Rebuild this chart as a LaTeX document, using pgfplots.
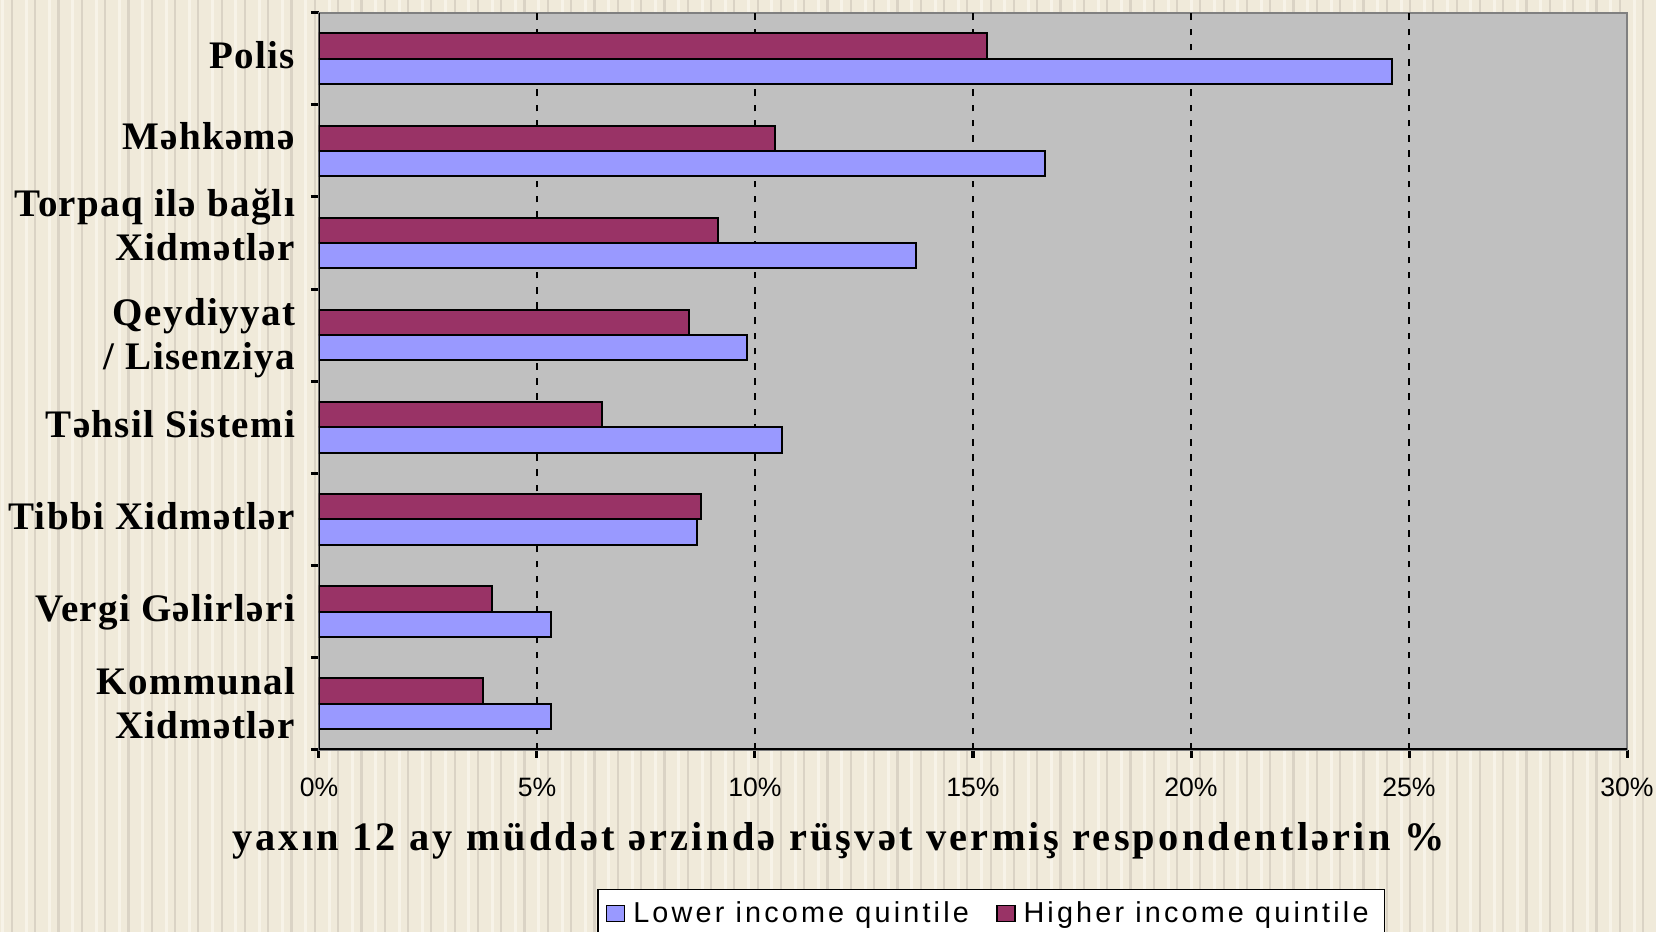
\documentclass[border=0pt]{standalone}
\usepackage{pgfplots}
\pgfplotsset{compat=1.18}
\usepackage{fontspec}
\usetikzlibrary{backgrounds}
\setmainfont{Liberation Serif}
\newfontfamily\catfont[LetterSpace=3.5]{Liberation Serif}
\newfontfamily\xlabfont[LetterSpace=8]{Liberation Serif}
\newfontfamily\tickfont{Liberation Sans}
\newfontfamily\legfont[LetterSpace=11]{Liberation Sans}
\definecolor{lowblue}{RGB}{153,153,255}
\definecolor{highred}{RGB}{153,51,102}
\definecolor{plotgray}{RGB}{192,192,192}
\definecolor{framegray}{RGB}{128,128,128}
\definecolor{bgbase}{RGB}{240,234,218}
\definecolor{bgstripe}{RGB}{218,211,197}
\definecolor{bglight}{RGB}{247,243,232}
\newcommand{\lab}[2]{\raisebox{#1}[0pt][0pt]{#2}}
\newcommand{\two}[2]{\begin{tabular}[t]{@{}r@{}}#1\\#2\end{tabular}}
\begin{document}
\begin{tikzpicture}
\begin{axis}[
  name=ax, at={(0pt,0pt)}, anchor=south west,
  scale only axis, width=654pt, height=368.5pt,
  xbar, bar width=0.275,
  xmin=0, xmax=30, ymin=-0.5, ymax=7.5,
  axis background/.style={fill=plotgray},
  axis line style={draw=framegray, line width=1pt},
  xtick={0,5,...,30},
  xticklabels={0\%,5\%,10\%,15\%,20\%,25\%,30\%},
  ytick={0,...,7},
  yticklabels={{\lab{4.8pt}{\two{Kommunal}{Xidmətlər}}},{\lab{-5pt}{Vergi Gəlirləri}},{\lab{-5pt}{Tibbi Xidmətlər}},{\lab{-5pt}{Təhsil Sistemi}},{\lab{4.8pt}{\two{Qeydiyyat}{/ Lisenziya}}},{\lab{13.3pt}{\two{Torpaq ilə bağlı}{Xidmətlər}}},{\lab{0.5pt}{Məhkəmə}},{\lab{-4.9pt}{Polis}}},
  minor xtick={0,5,...,30},
  minor ytick={-0.5,0.5,...,7.5},
  xtick pos=bottom, ytick pos=left, tick align=outside,
  major tick length=0pt, minor tick length=4pt,
  every tick/.style={black, line width=1.5pt},
  extra x ticks={5,10,15,20,25},
  extra x tick labels={},
  extra x tick style={grid=major},
  major grid style={black, line width=1.2pt, dash pattern=on 3.3pt off 4.3pt},
  xticklabel style={font=\tickfont\fontsize{13.3}{15}\selectfont, anchor=center, inner sep=0pt, yshift=-19pt},
  yticklabel style={font=\catfont\bfseries\fontsize{19.5}{22}\selectfont, anchor=east, inner sep=0pt, xshift=-11.8pt},
  xlabel={yaxın 12 ay müddət ərzində rüşvət vermiş respondentlərin \%},
  xlabel style={at={(axis description cs:0.397,0)}, anchor=center, yshift=-45.6pt, font=\xlabfont\bfseries\fontsize{20.2}{22}\selectfont},
  legend style={at={(axis description cs:0.2125,-0.1886)}, anchor=north west, draw=black, line width=0.8pt, fill=white,
    font=\legfont\fontsize{14.4}{16}\selectfont, inner xsep=4pt, inner ysep=4pt,
    /tikz/every even column/.append style={column sep=9.5pt}},
  legend columns=2,
  legend image code/.code={\draw[#1, line width=0.8pt] (0pt,-4pt) rectangle (9pt,4pt);},
  legend style={nodes={inner xsep=4pt}},
]
\addplot[fill=lowblue, draw=black, line width=1pt, bar shift=-0.1375] coordinates {
  (5.31,0) (5.31,1) (8.67,2) (10.61,3) (9.81,4) (13.69,5) (16.65,6) (24.6,7)};
\addplot[fill=highred, draw=black, line width=1pt, bar shift=0.1375] coordinates {
  (3.76,0) (3.97,1) (8.77,2) (6.49,3) (8.48,4) (9.16,5) (10.47,6) (15.31,7)};
\legend{Lower income quintile, Higher income quintile}
\draw[black, line width=1.5pt] (rel axis cs:0,1) -- (rel axis cs:0,0) -- (rel axis cs:1,0);
\end{axis}
\pgfresetboundingbox
\useasboundingbox (-159.5pt,-91pt) rectangle (668.5pt,374.85pt);
\begin{scope}[on background layer]
\fill[bgbase] (-159.5pt,-91pt) rectangle (668.5pt,374.85pt);
\foreach \i in {0,...,71} {
  \draw[bgstripe, line width=1.1pt] ({-159.5pt+\i*11.65pt+6pt},-91pt) -- ++(0,465.85pt);
  \draw[bglight, line width=1.5pt] ({-159.5pt+\i*11.65pt+1.5pt},-91pt) -- ++(0,465.85pt);
}
\end{scope}
\end{tikzpicture}
\end{document}
